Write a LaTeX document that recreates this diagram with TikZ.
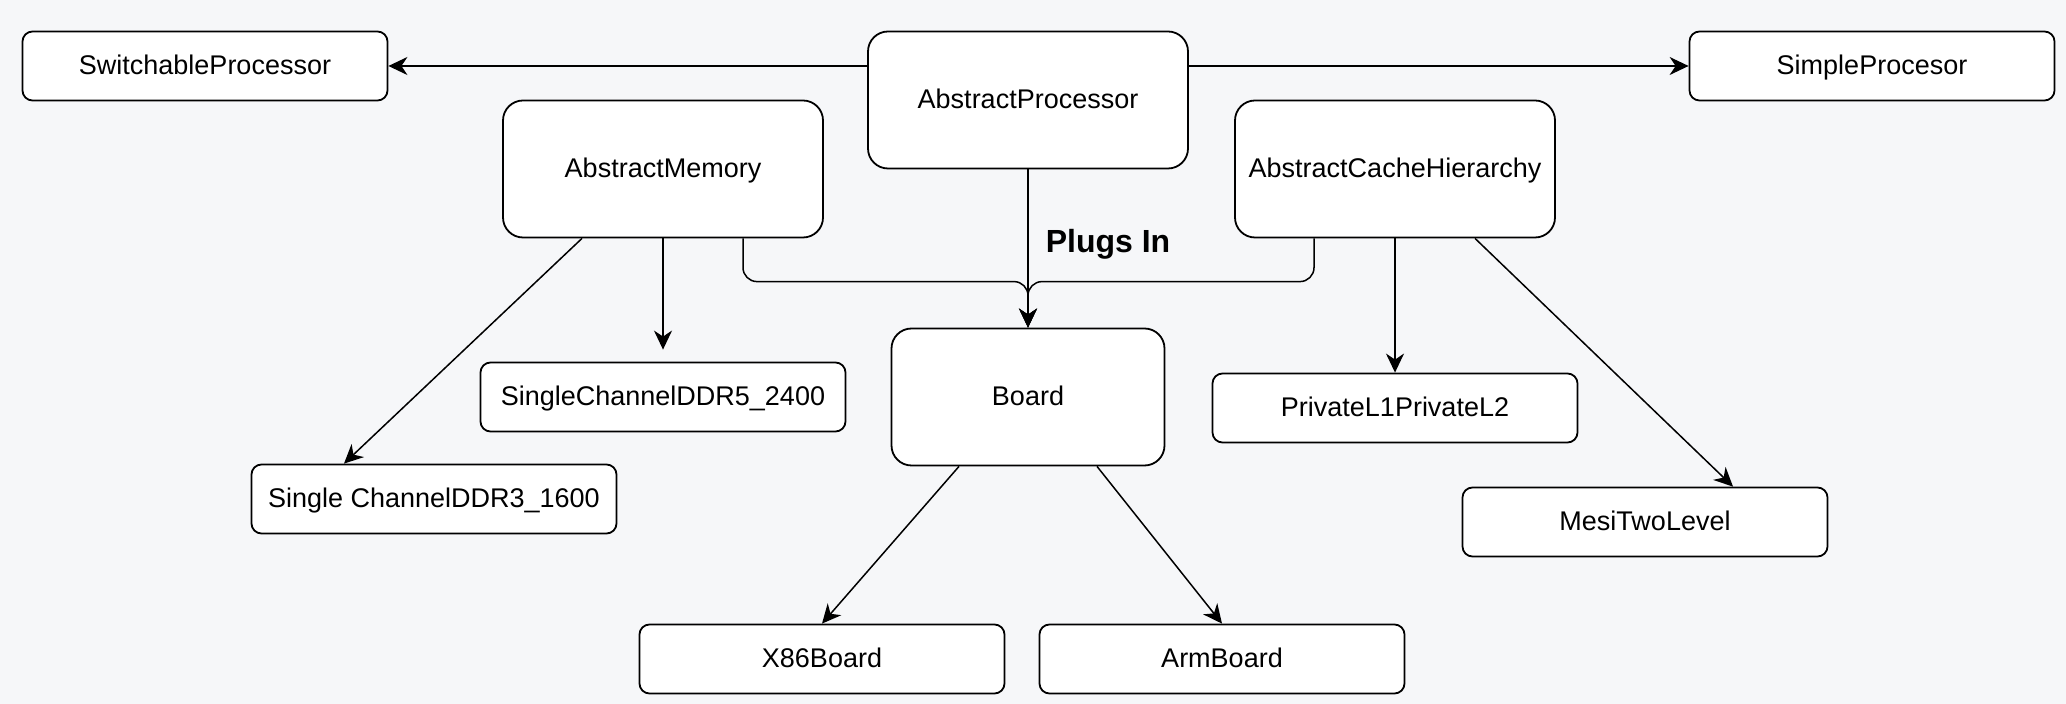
\documentclass[tikz,border=0pt]{standalone}
\usepackage{fontspec}
\setmainfont{Liberation Sans}
\usetikzlibrary{arrows.meta,calc}
\definecolor{cBg}{HTML}{F6F7F9}
\tikzset{
  blk/.style={draw, fill=white, line width=0.9pt, rounded corners=5pt, align=center,
              inner sep=0pt, text height=9.7pt, text depth=1pt,
              font=\fontsize{13.5}{16}\selectfont},
  wide/.style={blk, minimum width=182.5pt, minimum height=34.5pt},
  big/.style={blk, rounded corners=10pt, minimum width=160pt, minimum height=68.5pt},
  ar/.style={-{Stealth[length=9.5pt, width=9pt, inset=3pt]}, line width=0.75pt},
  lbl/.style={font=\bfseries\fontsize{16}{19}\selectfont, inner sep=1pt},
}

\begin{document}
\begin{tikzpicture}[x=0.5pt, y=-0.5pt]
    \fill[cBg] (0,0) rectangle (2066,704);

    % processor row
    \node[wide] (swp) at (205,66)   {SwitchableProcessor};
    \node[big]  (ap)  at (1028,100) {AbstractProcessor};
    \node[wide] (smp) at (1872,66)  {SimpleProcesor};
    \draw[ar] (ap.west |- swp.east) -- (swp.east);
    \draw[ar] (ap.east |- smp.west) -- (smp.west);

    % memory and cache
    \node[big]  (am)   at (663,169)  {AbstractMemory};
    \node[big]  (ach)  at (1395,169) {AbstractCacheHierarchy};
    \node[wide] (ddr5) at (663,397)  {SingleChannelDDR5\_2400};
    \node[wide] (ddr3) at (434,499)  {Single ChannelDDR3\_1600};
    \node[wide] (pl)   at (1395,408) {PrivateL1PrivateL2};
    \node[wide] (mesi) at (1645,522) {MesiTwoLevel};
    \coordinate (ddr5in) at ($(ddr5.north)+(0,-12)$);
    \draw[ar] ($(am.south)+(-81,0)$) -- ($(ddr3.north)+(-90,0)$);
    \draw[ar] (am.south) -- (ddr5in);
    \draw[ar] (ach.south) -- (pl.north);
    \draw[ar] ($(ach.south)+(80,0)$) -- ($(mesi.north)+(88,0)$);

    % board
    \node[big, minimum width=136.5pt] (bd) at (1028,397) {Board};
    \node[wide] (x86) at (822,659)  {X86Board};
    \node[wide] (arm) at (1222,659) {ArmBoard};
    \node[lbl] (plug) at (1108,244) {Plugs In};
    \draw[ar] (ap.south) -- (bd.north);
    \draw[ar, rounded corners=7pt] ($(am.south)+(80,0)$) |- ($(bd.north)+(0,-46)$) -- (bd.north);
    \draw[ar, rounded corners=7pt] ($(ach.south)+(-81,0)$) |- ($(bd.north)+(0,-46)$) -- (bd.north);
    \draw[ar] ($(bd.south)+(-69,0)$) -- (x86.north);
    \draw[ar] ($(bd.south)+(69,0)$) -- (arm.north);
\end{tikzpicture}
\end{document}
